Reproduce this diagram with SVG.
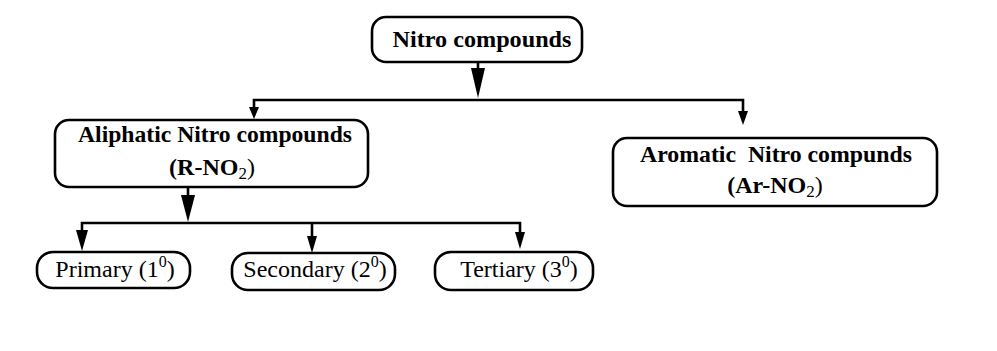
<svg xmlns="http://www.w3.org/2000/svg" width="997" height="351" viewBox="0 0 997 351">
<style>
.box{fill:#fff;stroke:#000;stroke-width:2.6}
.ln{fill:none;stroke:#000;stroke-width:2.6}
.ah{fill:#000;stroke:none}
.b{font-family:"Liberation Serif","Times New Roman",serif;font-weight:bold;fill:#000}
.r{font-family:"Liberation Serif","Times New Roman",serif;font-weight:normal;fill:#000}
</style>
<rect width="997" height="351" fill="#fff"/>
<g id="connectors">
<line class="ln" x1="478" y1="62" x2="478" y2="72"/>
<polygon class="ah" points="471,68 485,68 478,98"/>
<polyline class="ln" points="254,110 254,100 743,100 743,112"/>
<polygon class="ah" points="249,107 259,107 254,119"/>
<polygon class="ah" points="738,111 748,111 743,125"/>
<line class="ln" x1="188" y1="187" x2="188" y2="198"/>
<polygon class="ah" points="181,195 195,195 188,222"/>
<polyline class="ln" points="82,232 82,223 520,223 520,234"/>
<line class="ln" x1="312" y1="223" x2="312" y2="238"/>
<polygon class="ah" points="76,230 88,230 82,251"/>
<polygon class="ah" points="307,236 317,236 312,253"/>
<polygon class="ah" points="515,232 525,232 520,249"/>
</g>
<g id="node-nitro">
<rect class="box" x="372" y="17" width="210" height="45" rx="14"/>
<text class="b" x="482" y="47" font-size="24" text-anchor="middle" textLength="179" lengthAdjust="spacingAndGlyphs">Nitro compounds</text>
</g>
<g id="node-aliphatic">
<rect class="box" x="55" y="120" width="313" height="67" rx="14"/>
<text class="b" x="215" y="142" font-size="24" text-anchor="middle" textLength="274" lengthAdjust="spacingAndGlyphs">Aliphatic Nitro compounds</text>
<text class="b" x="212" y="175" font-size="24" text-anchor="middle">(R-NO<tspan class="r" font-size="17" dy="4">2</tspan><tspan class="r" dy="-4">)</tspan></text>
</g>
<g id="node-aromatic">
<rect class="box" x="613" y="138" width="324" height="68" rx="14"/>
<text class="b" x="776" y="162" font-size="24" text-anchor="middle" xml:space="preserve" textLength="272" lengthAdjust="spacingAndGlyphs">Aromatic  Nitro compunds</text>
<text class="b" x="775" y="193" font-size="24" text-anchor="middle">(Ar-NO<tspan class="r" font-size="17" dy="4">2</tspan><tspan class="r" dy="-4">)</tspan></text>
</g>
<g id="node-primary">
<rect class="box" x="37" y="252" width="153" height="36" rx="16"/>
<text class="r" x="115" y="277" font-size="24" text-anchor="middle">Primary (1<tspan font-size="16" dy="-10">0</tspan><tspan dy="10">)</tspan></text>
</g>
<g id="node-secondary">
<rect class="box" x="232" y="253" width="163" height="37" rx="16"/>
<text class="r" x="315" y="277" font-size="24" text-anchor="middle">Secondary (2<tspan font-size="16" dy="-10">0</tspan><tspan dy="10">)</tspan></text>
</g>
<g id="node-tertiary">
<rect class="box" x="435" y="252" width="158" height="38" rx="16"/>
<text class="r" x="519" y="277" font-size="24" text-anchor="middle">Tertiary (3<tspan font-size="16" dy="-10">0</tspan><tspan dy="10">)</tspan></text>
</g>
</svg>
